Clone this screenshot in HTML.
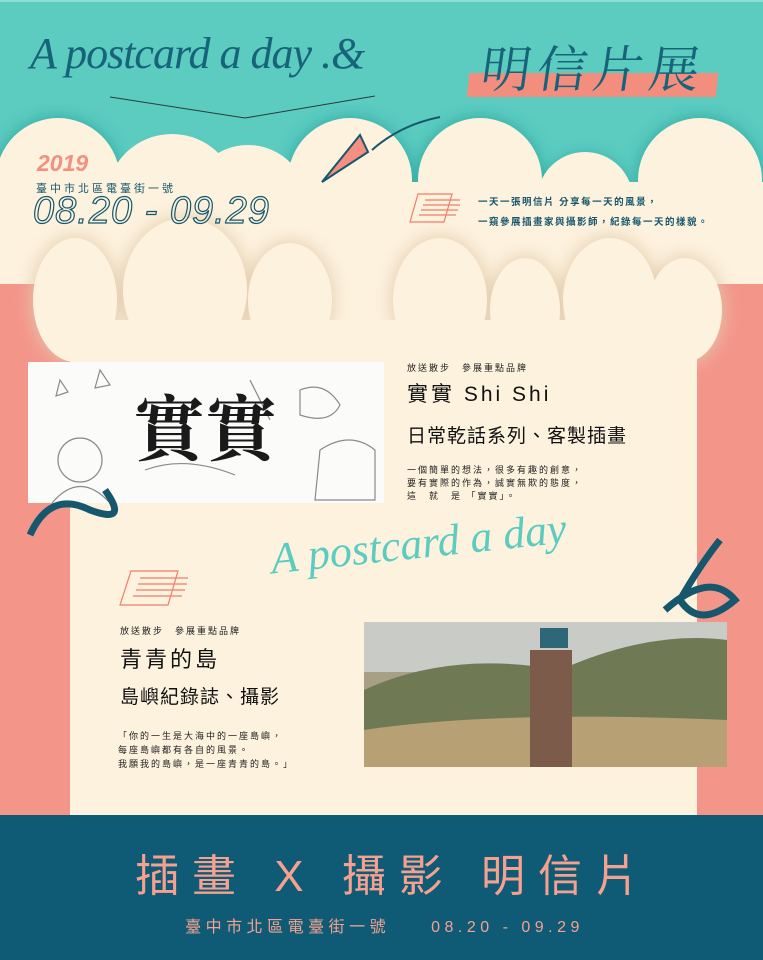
<!DOCTYPE html>
<html><head><meta charset="utf-8">
<style>
body{margin:0;width:763px;height:960px;overflow:hidden;background:#fdf2de;font-family:"Liberation Sans","Noto Sans CJK TC",sans-serif;}
#poster{position:relative;width:763px;height:960px;}
.abs{position:absolute;}
</style></head><body>
<div id="poster">
<svg class="abs" style="left:0;top:0" width="763" height="960">
<defs>
<filter id="blur"><feGaussianBlur stdDeviation="8"/></filter>
</defs>
<rect x="0" y="0" width="763" height="200" fill="#5ccbc0"/>
<rect x="0" y="0" width="763" height="2" fill="#8fded6"/>
<g fill="#2aa8a1" filter="url(#blur)">
<circle cx="58" cy="180" r="62"/><circle cx="172" cy="200" r="50"/><circle cx="248" cy="205" r="30"/><circle cx="350" cy="180" r="62"/><circle cx="480" cy="180" r="62"/><circle cx="585" cy="200" r="45"/><circle cx="700" cy="180" r="62"/>
</g>
<rect x="0" y="182" width="763" height="120" fill="#fdf2de"/>
<g fill="#fdf2de">
<circle cx="58" cy="180" r="62"/><circle cx="172" cy="200" r="66"/><circle cx="248" cy="205" r="60"/><circle cx="350" cy="180" r="62"/><circle cx="480" cy="180" r="62"/><circle cx="585" cy="200" r="48"/><circle cx="700" cy="180" r="62"/>
</g>
<rect x="0" y="284" width="70" height="540" fill="#f4958a"/>
<rect x="697" y="284" width="66" height="540" fill="#f4958a"/>
<g fill="#e2cbab" filter="url(#blur)" opacity="0.8">
<ellipse cx="75" cy="300" rx="45" ry="65"/><ellipse cx="185" cy="290" rx="65" ry="75"/><ellipse cx="290" cy="300" rx="45" ry="60"/><ellipse cx="440" cy="300" rx="50" ry="65"/><ellipse cx="525" cy="310" rx="38" ry="55"/><ellipse cx="610" cy="300" rx="50" ry="65"/><ellipse cx="685" cy="310" rx="40" ry="55"/>
</g>
<g fill="#fdf2de">
<ellipse cx="75" cy="300" rx="42" ry="62"/><ellipse cx="185" cy="290" rx="62" ry="72"/><ellipse cx="290" cy="300" rx="42" ry="57"/><ellipse cx="440" cy="300" rx="47" ry="62"/><ellipse cx="525" cy="310" rx="35" ry="52"/><ellipse cx="610" cy="300" rx="47" ry="62"/><ellipse cx="685" cy="310" rx="37" ry="52"/>
<rect x="70" y="320" width="627" height="500"/>
</g>
<rect x="0" y="815" width="763" height="145" fill="#0f5a74"/>
<rect x="477" y="73" width="249" height="24" fill="#f38e7e" transform="skewX(-6)"/>
<polyline points="110,97 245,118 375,96" fill="none" stroke="#2a3b3f" stroke-width="1"/>
<path d="M322,182 L360,135 L368,152 Z" fill="#f58f80" stroke="#17576d" stroke-width="2"/>
<path d="M372,150 Q400,125 440,117" fill="none" stroke="#17576d" stroke-width="2"/>
<g stroke="#f27b6c" fill="none" stroke-width="1.2">
<path d="M418,194 L452,194 L444,222 L410,222 Z"/>
<line x1="425" y1="200" x2="460" y2="200"/><line x1="423" y1="205" x2="460" y2="205"/><line x1="421" y1="210" x2="458" y2="210"/><line x1="419" y1="215" x2="456" y2="215"/>
</g>
<g stroke="#f27b6c" fill="none" stroke-width="1.2">
<path d="M131,571 L178,571 L168,605 L120,605 Z"/>
<line x1="140" y1="578" x2="188" y2="578"/><line x1="138" y1="584" x2="187" y2="584"/><line x1="136" y1="590" x2="185" y2="590"/><line x1="133" y1="596" x2="182" y2="596"/>
</g>
<rect x="28" y="362" width="356" height="141" fill="#fbfbfa"/>
<g stroke="#8a8a8a" fill="none" stroke-width="1.2">
<circle cx="80" cy="460" r="22"/><path d="M52,503 Q80,470 110,503"/><path d="M300,390 q25,-10 40,15 q-10,20 -40,10z"/><path d="M320,450 q30,-20 55,0 l0,50 l-60,0z"/><path d="M145,470 q40,-15 90,5"/><path d="M60,380 l8,12 l-12,4z"/><path d="M100,370 l10,15 l-15,3z"/><path d="M250,380 l20,40"/>
</g>
<text x="205" y="455" font-size="72" font-weight="bold" fill="#1a1a1a" text-anchor="middle" font-family="Noto Serif CJK SC,serif">實實</text>
<path d="M30,535 Q50,490 90,510 Q130,525 105,490" fill="none" stroke="#17576d" stroke-width="7"/>
<path d="M720,540 Q700,565 680,600 Q700,630 735,600 Q710,570 665,610" fill="none" stroke="#17576d" stroke-width="7"/>
<rect x="364" y="622" width="363" height="145" fill="#a79f86"/>
<rect x="364" y="622" width="363" height="50" fill="#c9cbc6"/>
<path d="M364,690 Q450,650 560,670 Q650,630 727,640 L727,767 L364,767 Z" fill="#6f7a55"/>
<path d="M364,730 Q500,710 727,720 L727,767 L364,767 Z" fill="#b6a074"/>
<rect x="530" y="650" width="42" height="117" fill="#7c5b4a"/>
<rect x="540" y="628" width="28" height="20" fill="#2e6878"/>
</svg>

<div class="abs" style="left:30px;top:28px;font-size:44px;font-style:italic;color:#17647a;font-family:'Liberation Serif',serif;letter-spacing:-1px">A postcard a day .&amp;</div>
<div class="abs" style="left:482px;top:30px;font-size:50px;color:#17647a;font-family:'Noto Serif CJK SC',serif;letter-spacing:6px;transform:skewX(-8deg)">明信片展</div>

<div class="abs" style="left:37px;top:150px;font-size:23px;font-weight:bold;font-style:italic;color:#f58f80">2019</div>
<div class="abs" style="left:36px;top:180px;font-size:11px;letter-spacing:3px;color:#17576d">臺中市北區電臺街一號</div>
<div class="abs" style="left:33px;top:190px;font-size:38px;font-style:italic;color:transparent;-webkit-text-stroke:1.2px #17576d;letter-spacing:1px">08.20 - 09.29</div>
<div class="abs" style="left:478px;top:193px;font-size:9.5px;line-height:20px;letter-spacing:1.5px;color:#17576d;font-weight:bold">一天一張明信片 分享每一天的風景，<br>一窺參展插畫家與攝影師，紀錄每一天的樣貌。</div>

<div class="abs" style="left:407px;top:361px;font-size:9px;letter-spacing:2px;color:#222">放送散步　參展重點品牌</div>
<div class="abs" style="left:407px;top:378px;font-size:21px;letter-spacing:3px;color:#111">實實 Shi Shi</div>
<div class="abs" style="left:407px;top:421px;font-size:19px;letter-spacing:1px;color:#111">日常乾話系列、客製插畫</div>
<div class="abs" style="left:407px;top:464px;font-size:9px;line-height:13px;letter-spacing:2px;color:#222">一個簡單的想法，很多有趣的創意，<br>要有實際的作為，誠實無欺的態度，<br>這　就　是 「實實」。</div>

<div class="abs" style="left:270px;top:518px;font-size:44px;font-style:italic;color:#5ccbc0;font-family:'Liberation Serif',serif;transform:rotate(-6deg)">A postcard a day</div>

<div class="abs" style="left:120px;top:624px;font-size:9px;letter-spacing:2px;color:#222">放送散步　參展重點品牌</div>
<div class="abs" style="left:120px;top:642px;font-size:22px;letter-spacing:3px;color:#111">青青的島</div>
<div class="abs" style="left:120px;top:682px;font-size:19px;letter-spacing:1px;color:#111">島嶼紀錄誌、攝影</div>
<div class="abs" style="left:118px;top:729px;font-size:9px;line-height:14px;letter-spacing:2px;color:#222">「你的一生是大海中的一座島嶼，<br>每座島嶼都有各自的風景。<br>我願我的島嶼，是一座青青的島。」</div>

<div class="abs" style="left:12px;width:763px;top:840px;text-align:center;font-size:44px;letter-spacing:13px;color:#f6a190;white-space:nowrap">插畫 X 攝影 明信片</div>
<div class="abs" style="left:3px;width:763px;top:913px;text-align:center;font-size:16px;letter-spacing:4.5px;color:#f6a190;white-space:nowrap">臺中市北區電臺街一號　　08.20 - 09.29</div>
</div>
</body></html>
